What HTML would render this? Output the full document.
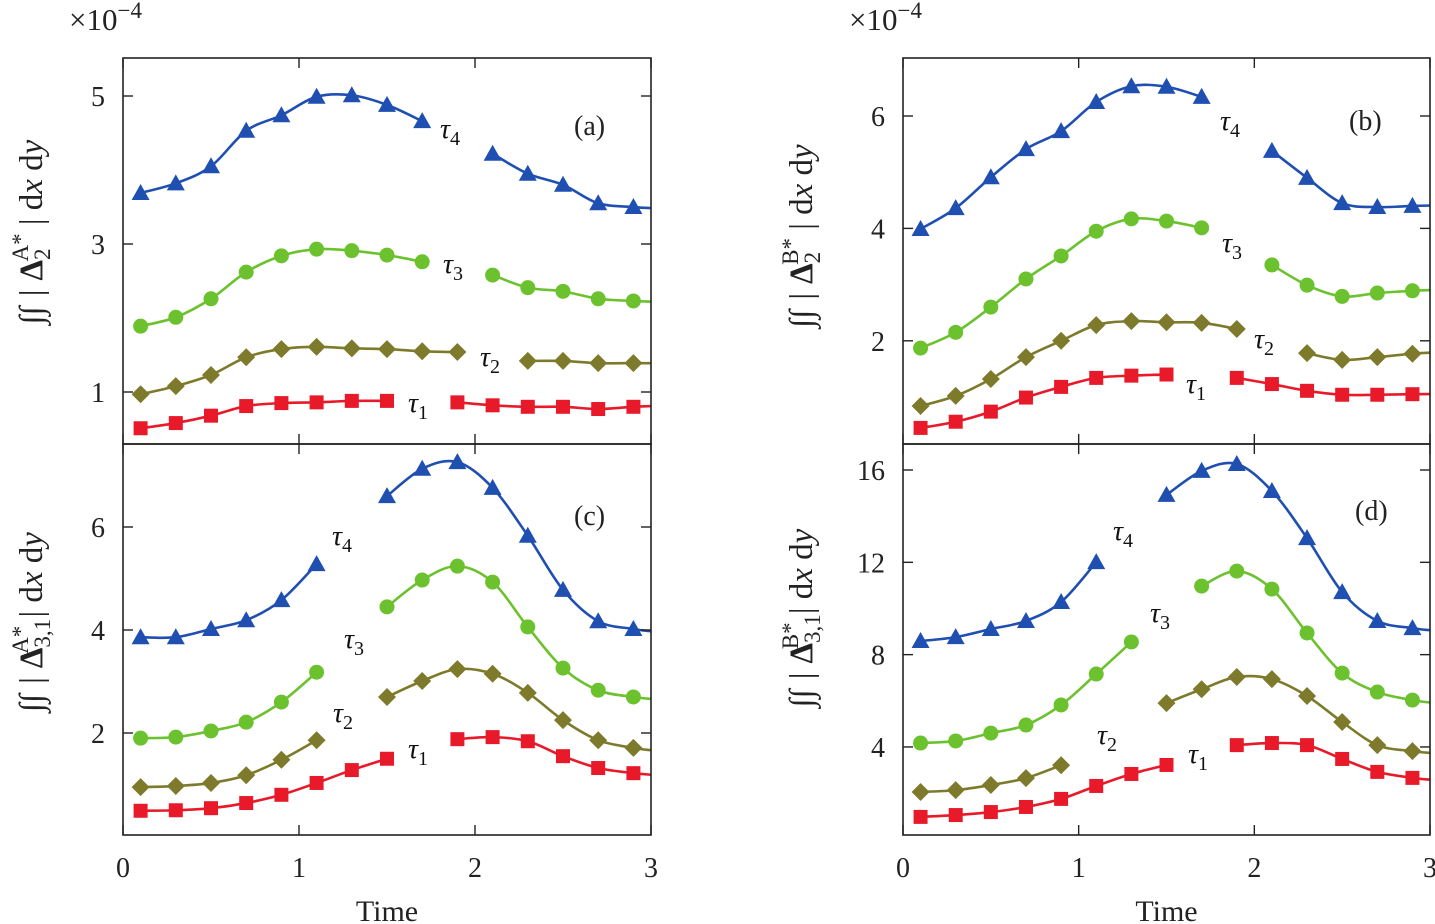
<!DOCTYPE html>
<html><head><meta charset="utf-8"><style>
html,body{margin:0;padding:0;background:#fff;}
svg{display:block;font-family:"Liberation Serif","DejaVu Serif",serif;}
</style></head><body>
<svg id="chart" width="1435" height="924" viewBox="0 0 1435 924" xmlns="http://www.w3.org/2000/svg"></svg>
<script>
const times=[0.1,0.3,0.5,0.7,0.9,1.1,1.3,1.5,1.7,1.9,2.1,2.3,2.5,2.7,2.9];
const N=null;
// panel (a)
const aT4=[3.69,3.82,4.05,4.53,4.74,4.99,5.01,4.88,4.66,N,4.22,3.95,3.80,3.55,3.50];
const aT3=[1.89,2.01,2.26,2.62,2.84,2.93,2.91,2.85,2.76,N,2.58,2.41,2.36,2.26,2.23];
const aT2=[0.97,1.08,1.23,1.47,1.58,1.61,1.59,1.58,1.55,1.54,N,1.42,1.42,1.39,1.39];
const aT1=[0.51,0.58,0.68,0.81,0.85,0.86,0.88,0.88,N,0.86,0.82,0.80,0.80,0.77,0.80];
// panel (b)
const bT4=[3.99,4.36,4.91,5.41,5.73,6.25,6.53,6.52,6.34,N,5.38,4.90,4.45,4.38,4.40];
const bT3=[1.87,2.15,2.60,3.10,3.51,3.95,4.17,4.13,4.01,N,3.35,2.99,2.79,2.85,2.89];
const bT2=[0.84,1.02,1.32,1.71,2.00,2.28,2.35,2.33,2.32,2.21,N,1.78,1.66,1.71,1.77];
const bT1=[0.45,0.56,0.74,0.99,1.18,1.34,1.38,1.40,N,1.34,1.23,1.11,1.04,1.04,1.05];
// panel (c)
const cT4=[3.86,3.86,4.02,4.19,4.58,5.28,N,6.60,7.13,7.26,6.76,5.83,4.78,4.17,4.02];
const cT3=[1.90,1.92,2.04,2.21,2.60,3.18,N,4.45,4.97,5.24,4.93,4.06,3.26,2.83,2.70];
const cT2=[0.95,0.97,1.03,1.18,1.48,1.86,N,2.70,3.01,3.24,3.15,2.78,2.25,1.86,1.71];
const cT1=[0.49,0.50,0.54,0.64,0.80,1.03,1.28,1.50,N,1.88,1.92,1.84,1.55,1.32,1.22];
// panel (d)
const dT4=[8.59,8.76,9.11,9.46,10.28,12.01,N,14.92,15.96,16.26,15.09,13.05,10.71,9.46,9.15];
const dT3=[4.17,4.26,4.60,4.95,5.82,7.16,8.55,N,10.97,11.62,10.84,8.94,7.20,6.38,6.03];
const dT2=[2.05,2.13,2.35,2.65,3.21,N,N,5.90,6.50,7.03,6.94,6.21,5.08,4.08,3.82];
const dT1=[0.97,1.05,1.18,1.40,1.75,2.31,2.83,3.22,N,4.08,4.17,4.08,3.48,2.92,2.66];
const xTicks=[0,1,2,3];
const aTicks=[1,3,5], bTicks=[2,4,6], cTicks=[2,4,6], dTicks=[4,8,12,16];

const NS="http://www.w3.org/2000/svg";
const svg=document.getElementById('chart');
function mk(tag,attrs,parent){const e=document.createElementNS(NS,tag);for(const k in attrs)e.setAttribute(k,attrs[k]);(parent||svg).appendChild(e);return e;}
const colors={t4:'#1f4fb0',t3:'#6cc22e',t2:'#7d7b2b',t1:'#e81a2a'};

const panels=[
 {id:'a',x0:123,x1:651,top:58,bot:444,ref:[5,96,74],ticks:aTicks,series:[aT4,aT3,aT2,aT1],
  labels:[[440,138],[443,273],[480,366],[408,412]],letter:[574,135],ylab:[42,232],sup:'A*',sub:'2'},
 {id:'b',x0:903,x1:1430,top:58,bot:444,ref:[6,116,56.2],ticks:bTicks,series:[bT4,bT3,bT2,bT1],
  labels:[[1220,130],[1222,252],[1254,348],[1186,393]],letter:[1349,130],ylab:[812,236],sup:'B*',sub:'2'},
 {id:'c',x0:123,x1:651,top:444,bot:835,ref:[6,527,51.5],ticks:cTicks,series:[cT4,cT3,cT2,cT1],
  labels:[[332,545],[344,648],[333,722],[408,758]],letter:[574,525],ylab:[42,622],sup:'A*',sub:'3,1'},
 {id:'d',x0:903,x1:1430,top:444,bot:835,ref:[16,470,23.08],ticks:dTicks,series:[dT4,dT3,dT2,dT1],
  labels:[[1113,540],[1150,622],[1097,744],[1188,763]],letter:[1355,520],ylab:[812,618],sup:'B*',sub:'3,1'}
];
const keys=['t4','t3','t2','t1'];

function smoothPath(pts){
  if(pts.length<2)return '';
  let d=`M${pts[0][0]},${pts[0][1]}`;
  for(let i=0;i<pts.length-1;i++){
    const p0=pts[i-1]||pts[i],p1=pts[i],p2=pts[i+1],p3=pts[i+2]||p2;
    const c1=[p1[0]+(p2[0]-p0[0])/6,p1[1]+(p2[1]-p0[1])/6];
    const c2=[p2[0]-(p3[0]-p1[0])/6,p2[1]-(p3[1]-p1[1])/6];
    d+=` C${c1[0]},${c1[1]} ${c2[0]},${c2[1]} ${p2[0]},${p2[1]}`;
  }
  return d;
}
function marker(k,x,y,g){
  let e;
  if(k==='t4'){e=mk('polygon',{points:`${x},${y-9} ${x+9},${y+7} ${x-9},${y+7}`,fill:colors[k]},g);}
  else if(k==='t3'){e=mk('circle',{cx:x,cy:y,r:7.5,fill:colors[k]},g);}
  else if(k==='t2'){e=mk('polygon',{points:`${x},${y-9} ${x+9},${y} ${x},${y+9} ${x-9},${y}`,fill:colors[k]},g);}
  else {e=mk('rect',{x:x-7,y:y-7,width:14,height:14,fill:colors[k]},g);}
  
  
}

panels.forEach(p=>{
  const g=mk('g',{});
  
  
  const X=v=>p.x0+v*(p.x1-p.x0)/3;
  const Y=v=>p.ref[1]-(v-p.ref[0])*p.ref[2];
  const clipId='clip'+p.id;
  const cp=mk('clipPath',{id:clipId},g);mk('rect',{x:p.x0,y:p.top,width:p.x1-p.x0,height:p.bot-p.top},cp);
  const plot=mk('g',{'clip-path':`url(#${clipId})`},g);
  p.series.forEach((vals,si)=>{
    const k=keys[si];
    let segs=[[]];
    vals.forEach((v,i)=>{ if(v===null){ if(segs[segs.length-1].length)segs.push([]);} else segs[segs.length-1].push([X(times[i]),Y(v)]); });
    segs=segs.filter(s=>s.length);
    const last=segs[segs.length-1];
    if(last.length>=2){const a=last[last.length-1],b=last[last.length-2];last.push([X(3.0),a[1]+(a[1]-b[1])*0.3]);}
    segs.forEach(s=>{
      const pa=mk('path',{d:smoothPath(s),fill:'none',stroke:colors[k],'stroke-width':2.6},plot);
      
      
    });
    vals.forEach((v,i)=>{ if(v!==null) marker(k,X(times[i]),Y(v),plot); });
    const [lx,ly]=p.labels[si];
    const t=mk('text',{x:lx,y:ly,'font-size':28,'font-style':'italic',fill:'#111'},g);
    
    
    t.textContent='τ';
    const s=mk('tspan',{dy:7,'font-size':20,'font-style':'normal'},t);s.textContent=k[1];
  });
  const fr=mk('rect',{x:p.x0,y:p.top,width:p.x1-p.x0,height:p.bot-p.top,fill:'none',stroke:'#222','stroke-width':1.6},g);
  
  
  p.ticks.forEach(v=>{
    const y=Y(v);
    mk('line',{x1:p.x0,x2:p.x0+10,y1:y,y2:y,stroke:'#222','stroke-width':1.4},g);
    mk('line',{x1:p.x1,x2:p.x1-10,y1:y,y2:y,stroke:'#222','stroke-width':1.4},g);
    const t=mk('text',{x:p.x0-18,y:y+10,'font-size':28,'text-anchor':'end',fill:'#222'},g);
    
    
    t.textContent=v;
  });
  xTicks.forEach(v=>{
    const x=X(v);
    mk('line',{x1:x,x2:x,y1:p.bot,y2:p.bot-10,stroke:'#222','stroke-width':1.4},g);
    mk('line',{x1:x,x2:x,y1:p.top,y2:p.top+10,stroke:'#222','stroke-width':1.4},g);
    if(p.id==='c'||p.id==='d'){
      const t=mk('text',{x:x,y:877,'font-size':28,'text-anchor':'middle',fill:'#222'},g);
      
      
      t.textContent=v;
    }
  });
  const L=mk('text',{x:p.letter[0],y:p.letter[1],'font-size':28,fill:'#222'},g);
  
  
  L.textContent='('+p.id+')';
  const yl=mk('text',{transform:`translate(${p.ylab[0]},${p.ylab[1]}) rotate(-90)`,'text-anchor':'middle','font-size':33,fill:'#222'},g);
  
  
  const parts=[['∫∫ | ',{'font-style':'italic'}],['Δ',{'font-weight':'bold'}],[p.sub,{'font-size':23,dy:8}],[p.sup,{'font-size':23,dy:-22,dx:-(p.sub.length*11+2)}],[' | d',{dy:14}],['x',{'font-style':'italic'}],[' d',{}],['y',{'font-style':'italic'}]];
  parts.forEach(([txt,at])=>{const s=mk('tspan',at,yl);s.textContent=txt;});
  if(p.id==='a'||p.id==='b'){
    const e=mk('text',{x:p.x0-54,y:30,'font-size':31,fill:'#222'},g);
    
    
    e.textContent='×10';
    const s=mk('tspan',{dy:-12,'font-size':23},e);s.textContent='−4';
  }
  if(p.id==='c'||p.id==='d'){
    const t=mk('text',{x:(p.x0+p.x1)/2,y:921,'font-size':30,'text-anchor':'middle',fill:'#222'},g);
    
    
    t.textContent='Time';
  }
});
</script>
</body></html>
